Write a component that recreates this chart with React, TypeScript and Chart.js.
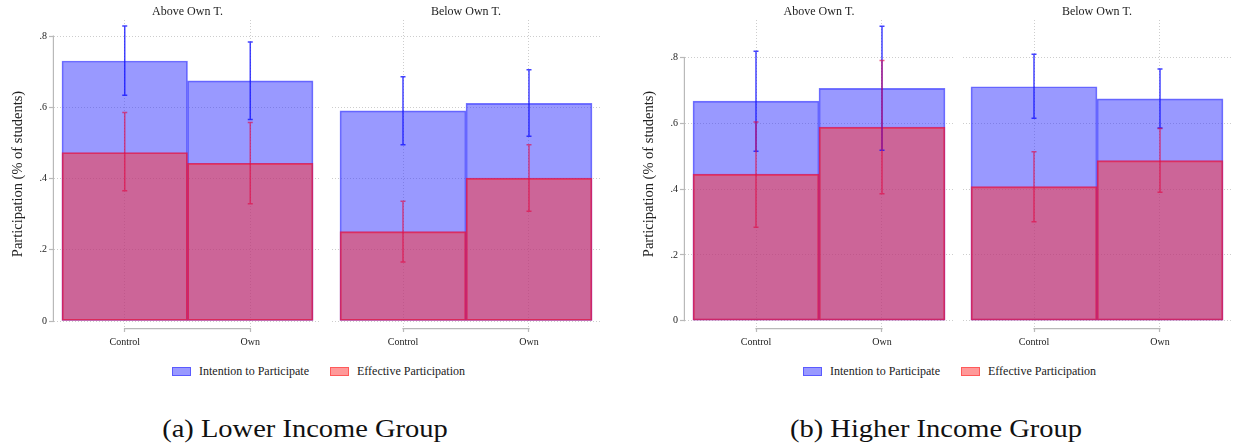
import React, { useEffect, useRef } from "react";
import { Chart, registerables } from "chart.js";

Chart.register(...registerables);

const categories = ["Control", "Own"];
const panelTitles = ["Above Own T.", "Below Own T."];
const seriesNames = ["Intention to Participate", "Effective Participation"];
const captions = ["(a) Lower Income Group", "(b) Higher Income Group"];
const yTicks = [0, 0.2, 0.4, 0.6, 0.8];
const yTitle = "Participation (% of students)";

// Lower income group
const lowerAboveIntention = [0.73, 0.674];
const lowerAboveIntentionCI = [[0.634, 0.828], [0.566, 0.783]];
const lowerAboveEffective = [0.473, 0.443];
const lowerAboveEffectiveCI = [[0.366, 0.585], [0.329, 0.557]];
const lowerBelowIntention = [0.59, 0.611];
const lowerBelowIntentionCI = [[0.495, 0.686], [0.519, 0.705]];
const lowerBelowEffective = [0.251, 0.401];
const lowerBelowEffectiveCI = [[0.166, 0.336], [0.308, 0.495]];

// Higher income group
const higherAboveIntention = [0.668, 0.707];
const higherAboveIntentionCI = [[0.516, 0.82], [0.519, 0.896]];
const higherAboveEffective = [0.446, 0.589];
const higherAboveEffectiveCI = [[0.284, 0.605], [0.386, 0.792]];
const higherBelowIntention = [0.712, 0.675];
const higherBelowIntentionCI = [[0.616, 0.811], [0.586, 0.766]];
const higherBelowEffective = [0.408, 0.487];
const higherBelowEffectiveCI = [[0.301, 0.514], [0.391, 0.585]];

// Value-axis ranges of the two figures
const lowerRange = [-0.0196, 0.845];
const higherRange = [-0.0222, 0.915];

const SERIF = "'Liberation Serif', 'Times New Roman', serif";
const TEXT = "#222";
const GRID = "rgba(200,200,200,0.9)";
const AXIS = "rgb(185,185,185)";
const BLUE_FILL = "rgba(51,51,255,0.5)";
const BLUE_EDGE = "rgba(60,60,255,0.7)";
const RED_FILL = "rgba(255,50,50,0.5)";
const RED_EDGE = "rgba(220,20,80,0.8)";
const BLUE_CI = "rgba(20,20,255,0.8)";
const RED_CI = "rgba(225,10,70,0.65)";

type PanelProps = {
  left: number;
  width: number;
  title: string;
  intention: number[];
  intentionCI: number[][];
  effective: number[];
  effectiveCI: number[][];
  range: number[];
  showAxis: boolean;
};

function Panel(props: PanelProps) {
  const ref = useRef<HTMLCanvasElement>(null);
  const { left, width, title, intention, intentionCI, effective, effectiveCI, range, showAxis } = props;

  useEffect(() => {
    const axisLines = {
      id: "axisLines",
      beforeDatasetsDraw(chart: any) {
        const { ctx, chartArea, scales } = chart;
        const x = scales.x;
        const y = scales.y;
        ctx.save();
        ctx.strokeStyle = AXIS;
        ctx.lineWidth = 1.2;
        ctx.setLineDash([]);
        ctx.beginPath();
        const yb = chartArea.bottom + 0.6;
        ctx.moveTo(x.getPixelForValue(1) - 0.6, yb);
        ctx.lineTo(x.getPixelForValue(categories.length) + 0.6, yb);
        if (showAxis) {
          const xl = chartArea.left - 0.6;
          ctx.moveTo(xl, y.getPixelForValue(yTicks[0]) + 0.6);
          ctx.lineTo(xl, y.getPixelForValue(yTicks[yTicks.length - 1]) - 0.6);
        }
        ctx.stroke();
        ctx.restore();
      },
    };

    const errorBars = {
      id: "errorBars",
      afterDatasetsDraw(chart: any) {
        const { ctx, scales } = chart;
        const x = scales.x;
        const y = scales.y;
        const sets = [
          { ci: intentionCI, color: BLUE_CI },
          { ci: effectiveCI, color: RED_CI },
        ];
        ctx.save();
        ctx.lineWidth = 1.5;
        for (const s of sets) {
          ctx.strokeStyle = s.color;
          s.ci.forEach((lh, i) => {
            const px = x.getPixelForValue(i + 1);
            const lo = y.getPixelForValue(lh[0]);
            const hi = y.getPixelForValue(lh[1]);
            ctx.beginPath();
            ctx.moveTo(px, lo);
            ctx.lineTo(px, hi);
            ctx.moveTo(px - 2.5, lo);
            ctx.lineTo(px + 2.5, lo);
            ctx.moveTo(px - 2.5, hi);
            ctx.lineTo(px + 2.5, hi);
            ctx.stroke();
          });
        }
        ctx.restore();
      },
    };

    const chart = new Chart(ref.current as HTMLCanvasElement, {
      type: "bar",
      data: {
        datasets: [
          {
            label: seriesNames[1],
            data: effective.map((v, i) => ({ x: i + 1, y: v })),
            backgroundColor: RED_FILL,
            borderColor: RED_EDGE,
            borderWidth: 1.2,
            borderSkipped: false,
            order: 1,
          },
          {
            label: seriesNames[0],
            data: intention.map((v, i) => ({ x: i + 1, y: v })),
            backgroundColor: BLUE_FILL,
            borderColor: BLUE_EDGE,
            borderWidth: 1,
            borderSkipped: false,
            order: 2,
          },
        ] as any,
      },
      options: {
        animation: false,
        responsive: false,
        layout: { padding: 0 },
        datasets: { bar: { grouped: false, barPercentage: 1, categoryPercentage: 1 } } as any,
        plugins: {
          legend: { display: false },
          tooltip: { enabled: false },
          title: {
            display: true,
            text: title,
            fullSize: false,
            color: TEXT,
            font: { family: SERIF, size: 12, weight: "normal" },
            padding: { top: 4.5, bottom: 1.1 },
          },
        },
        scales: {
          x: {
            type: "linear",
            min: 0.4365,
            max: categories.length + 0.5635,
            offset: false,
            afterBuildTicks: (s: any) => {
              s.ticks = categories.map((_, i) => ({ value: i + 1 }));
            },
            afterFit: (s: any) => {
              s.height = 22;
            },
            ticks: {
              autoSkip: false,
              maxRotation: 0,
              padding: 4,
              color: TEXT,
              font: { family: SERIF, size: 10 },
              callback: (v: any) => categories[Math.round(v) - 1] ?? "",
            },
            grid: {
              offset: false,
              color: GRID,
              borderDash: [1, 2],
              drawTicks: true,
              tickLength: 4,
              tickColor: AXIS,
              tickWidth: 1.2,
              tickBorderDash: [],
            } as any,
            border: { display: false, dash: [1, 2] },
          },
          y: {
            type: "linear",
            min: range[0],
            max: range[1],
            afterBuildTicks: (s: any) => {
              s.ticks = yTicks.map((v) => ({ value: v }));
            },
            afterFit: (s: any) => {
              s.width = showAxis ? 54 : 0;
            },
            ticks: {
              display: showAxis,
              padding: 2,
              color: TEXT,
              font: { family: SERIF, size: 10 },
              callback: (v: any) => (v === 0 ? "0" : Number(v).toFixed(1).replace(/^0/, "")),
            },
            grid: {
              color: GRID,
              borderDash: [1, 2],
              drawTicks: showAxis,
              tickLength: 5,
              tickColor: AXIS,
              tickWidth: 1.2,
              tickBorderDash: [],
            } as any,
            border: { display: false, dash: [1, 2] },
            title: {
              display: showAxis,
              text: yTitle,
              color: TEXT,
              font: { family: SERIF, size: 14.5 },
              padding: { top: 9, bottom: 0 },
            },
          },
        },
      } as any,
      plugins: [axisLines, errorBars],
    });
    return () => chart.destroy();
  }, []);

  return (
    <canvas
      ref={ref}
      width={width}
      height={350}
      style={{ position: "absolute", left, top: 0, width, height: 350 }}
    />
  );
}

function Legend({ left }: { left: number }) {
  const item = (name: string, fill: string, edge: string, ml: number) => (
    <div style={{ display: "flex", alignItems: "center", marginLeft: ml }}>
      <div
        style={{
          width: 17,
          height: 7,
          background: fill,
          border: `1px solid ${edge}`,
          marginRight: 8,
        }}
      />
      <span>{name}</span>
    </div>
  );
  return (
    <div
      style={{
        position: "absolute",
        left,
        top: 364,
        height: 14,
        display: "flex",
        alignItems: "center",
        fontFamily: SERIF,
        fontSize: 12,
        color: TEXT,
        whiteSpace: "nowrap",
      }}
    >
      {item(seriesNames[0], "rgb(153,153,255)", "rgb(90,90,255)", 0)}
      {item(seriesNames[1], "rgb(255,153,153)", "rgb(255,90,90)", 21)}
    </div>
  );
}

function Caption({ center, text }: { center: number; text: string }) {
  return (
    <div
      style={{
        position: "absolute",
        left: center - 300,
        width: 600,
        top: 416,
        textAlign: "center",
        fontFamily: SERIF,
        fontSize: 25,
        lineHeight: "25px",
        color: "#111",
        transform: "scaleX(1.14)",
        transformOrigin: "center",
        whiteSpace: "nowrap",
      }}
    >
      {text}
    </div>
  );
}

export default function App() {
  return (
    <div
      style={{
        position: "fixed",
        left: 0,
        top: 0,
        width: 1233,
        height: 446,
        background: "#fff",
        overflow: "hidden",
      }}
    >
      <Panel
        left={0}
        width={321}
        title={panelTitles[0]}
        intention={lowerAboveIntention}
        intentionCI={lowerAboveIntentionCI}
        effective={lowerAboveEffective}
        effectiveCI={lowerAboveEffectiveCI}
        range={lowerRange}
        showAxis={true}
      />
      <Panel
        left={332}
        width={268}
        title={panelTitles[1]}
        intention={lowerBelowIntention}
        intentionCI={lowerBelowIntentionCI}
        effective={lowerBelowEffective}
        effectiveCI={lowerBelowEffectiveCI}
        range={lowerRange}
        showAxis={false}
      />
      <Panel
        left={631}
        width={322}
        title={panelTitles[0]}
        intention={higherAboveIntention}
        intentionCI={higherAboveIntentionCI}
        effective={higherAboveEffective}
        effectiveCI={higherAboveEffectiveCI}
        range={higherRange}
        showAxis={true}
      />
      <Panel
        left={963}
        width={268}
        title={panelTitles[1]}
        intention={higherBelowIntention}
        intentionCI={higherBelowIntentionCI}
        effective={higherBelowEffective}
        effectiveCI={higherBelowEffectiveCI}
        range={higherRange}
        showAxis={false}
      />
      <Legend left={172} />
      <Legend left={803} />
      <Caption center={305} text={captions[0]} />
      <Caption center={936} text={captions[1]} />
    </div>
  );
}
